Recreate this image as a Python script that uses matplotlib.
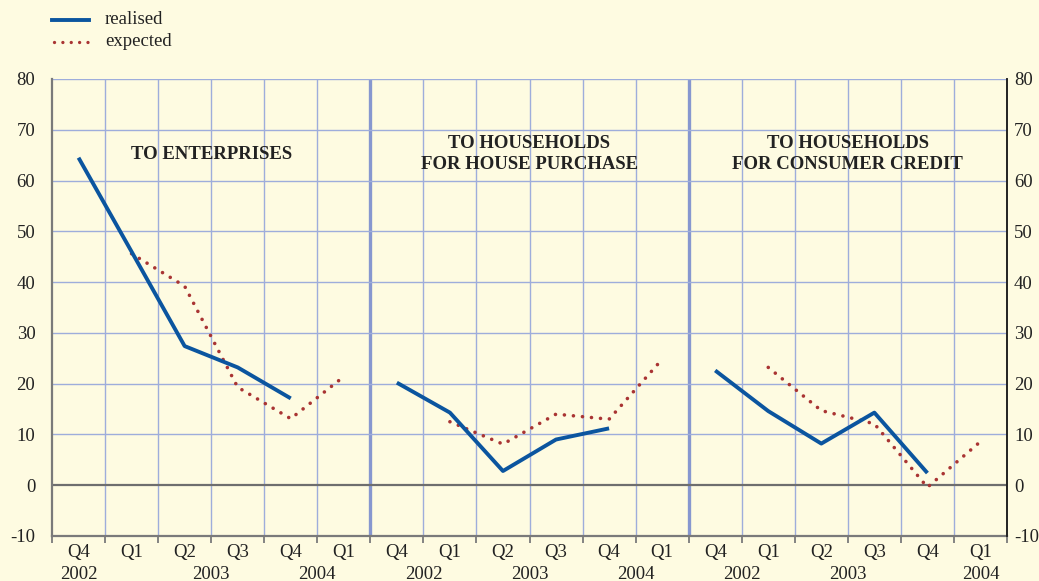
import numpy as np
import matplotlib.pyplot as plt
import matplotlib.transforms as mtransforms

plt.rcParams['font.family'] = ['Liberation Serif', 'DejaVu Serif']
plt.rcParams['axes.unicode_minus'] = False

# 数据: 三个面板, 每个面板 6 个季度 (2002Q4 ~ 2004Q1)
quarters = ['Q4', 'Q1', 'Q2', 'Q3', 'Q4', 'Q1']
panel_titles = ['TO ENTERPRISES',
                'TO HOUSEHOLDS\nFOR HOUSE PURCHASE',
                'TO HOUSEHOLDS\nFOR CONSUMER CREDIT']

# realised: 2002Q4 ~ 2003Q4 (5 个点)
realised_ent = [64.5, 46.0, 27.4, 23.2, 17.1]
realised_house = [20.2, 14.3, 2.8, 9.0, 11.2]
realised_cons = [22.6, 14.6, 8.2, 14.3, 2.4]

# expected: 2003Q1 ~ 2004Q1 (5 个点)
expected_ent = [45.6, 39.2, 19.3, 13.1, 21.4]
expected_house = [12.5, 8.1, 14.0, 13.0, 24.8]
expected_cons = [23.2, 14.7, 12.1, -0.4, 8.6]

# 年份标签 (位置为面板内的季度刻度)
year_labels = [[('2002', 0.5), ('2003', 3.0), ('2004', 5.0)],
               [('2002', 1.0), ('2003', 3.0), ('2004', 5.0)],
               [('2002', 1.0), ('2003', 3.0), ('2004', 5.5)]]

realised_all = [realised_ent, realised_house, realised_cons]
expected_all = [expected_ent, expected_house, expected_cons]

bg = '#fefbe1'
grid_c = '#9eaddb'
sep_c = '#8797cf'
blue = '#0b559f'
red = '#a93433'
txt = '#222222'
fs = 13.5

W, H = 1039, 581
fig = plt.figure(figsize=(W / 100, H / 100), dpi=100, facecolor=bg)
ax = fig.add_axes([52 / W, (H - 536) / H, (1007 - 52) / W, (536 - 79) / H])
ax.set_facecolor(bg)

ax.set_xlim(0, 18)
ax.set_ylim(-10, 80)

# 网格
for k in range(1, 18):
    if k % 6 == 0:
        ax.axvline(k, color=sep_c, lw=2.4, zorder=1)
    else:
        ax.axvline(k, color=grid_c, lw=1.0, zorder=1)
for v in range(10, 90, 10):
    ax.axhline(v, color=grid_c, lw=1.0, zorder=1)
ax.axhline(0, color='#6e6e6e', lw=1.6, zorder=2)

for s in ['top', 'bottom']:
    ax.spines[s].set_visible(False)
ax.spines['left'].set_color('#7a7a7a')
ax.spines['left'].set_linewidth(1.6)
ax.spines['right'].set_color('#222222')
ax.spines['right'].set_linewidth(1.2)

# 底部轴线及刻度
ax.axhline(-10, color='#7a7a7a', lw=1.6, zorder=2, clip_on=False)
ax.set_xticks(np.arange(0, 19))
ax.set_xticklabels([])
ax.tick_params(axis='x', direction='out', length=5, width=1.3, color='#7a7a7a', bottom=True)

yticks = np.arange(-10, 90, 10)
ax.set_yticks(yticks)
ax.tick_params(axis='y', length=0, labelsize=fs, pad=12, colors=txt)

# 右侧刻度
axr = ax.twinx()
axr.set_ylim(-10, 80)
axr.set_yticks(yticks)
axr.tick_params(axis='y', length=0, labelsize=fs, pad=5, colors=txt)
for s in ['top', 'bottom', 'left']:
    axr.spines[s].set_visible(False)
axr.spines['right'].set_color('#222222')
axr.spines['right'].set_linewidth(1.2)

trans = mtransforms.blended_transform_factory(ax.transData, ax.transAxes)
for p in range(3):
    off = p * 6
    xr = off + 0.5 + np.arange(len(realised_all[p]))
    xe = off + 1.5 + np.arange(len(expected_all[p]))
    ax.plot(xr, realised_all[p], color=blue, lw=2.8, zorder=4, solid_capstyle='butt')
    ax.plot(xe, expected_all[p], color=red, lw=2.6, zorder=3,
            linestyle=(0, (0.01, 2.5)), dash_capstyle='round')
    ax.text(off + 3.0, 65.2, panel_titles[p], ha='center', va='center',
            fontsize=13.5, fontweight='bold', color=txt, linespacing=1.3, zorder=5)

    for i, q in enumerate(quarters):
        ax.text(off + i + 0.5, -0.036, q, transform=trans, ha='center', va='center',
                fontsize=fs, color=txt, clip_on=False)
    for lab, pos in year_labels[p]:
        ax.text(off + pos, -0.084, lab, transform=trans, ha='center', va='center',
                fontsize=fs, color=txt, clip_on=False)

# 图例
fig.lines.append(plt.Line2D([52 / W, 89 / W], [1 - 20 / H, 1 - 20 / H], color=blue, lw=2.8,
                            transform=fig.transFigure))
fig.lines.append(plt.Line2D([54 / W, 89 / W], [1 - 42 / H, 1 - 42 / H], color=red, lw=2.4,
                            linestyle=(0, (0.01, 2.5)), dash_capstyle='round',
                            transform=fig.transFigure))
fig.text(105 / W, 1 - 20 / H, 'realised', ha='left', va='center', fontsize=fs, color=txt)
fig.text(105 / W, 1 - 42 / H, 'expected', ha='left', va='center', fontsize=fs, color=txt)

fig.savefig('out.png', dpi=100, facecolor=bg)
